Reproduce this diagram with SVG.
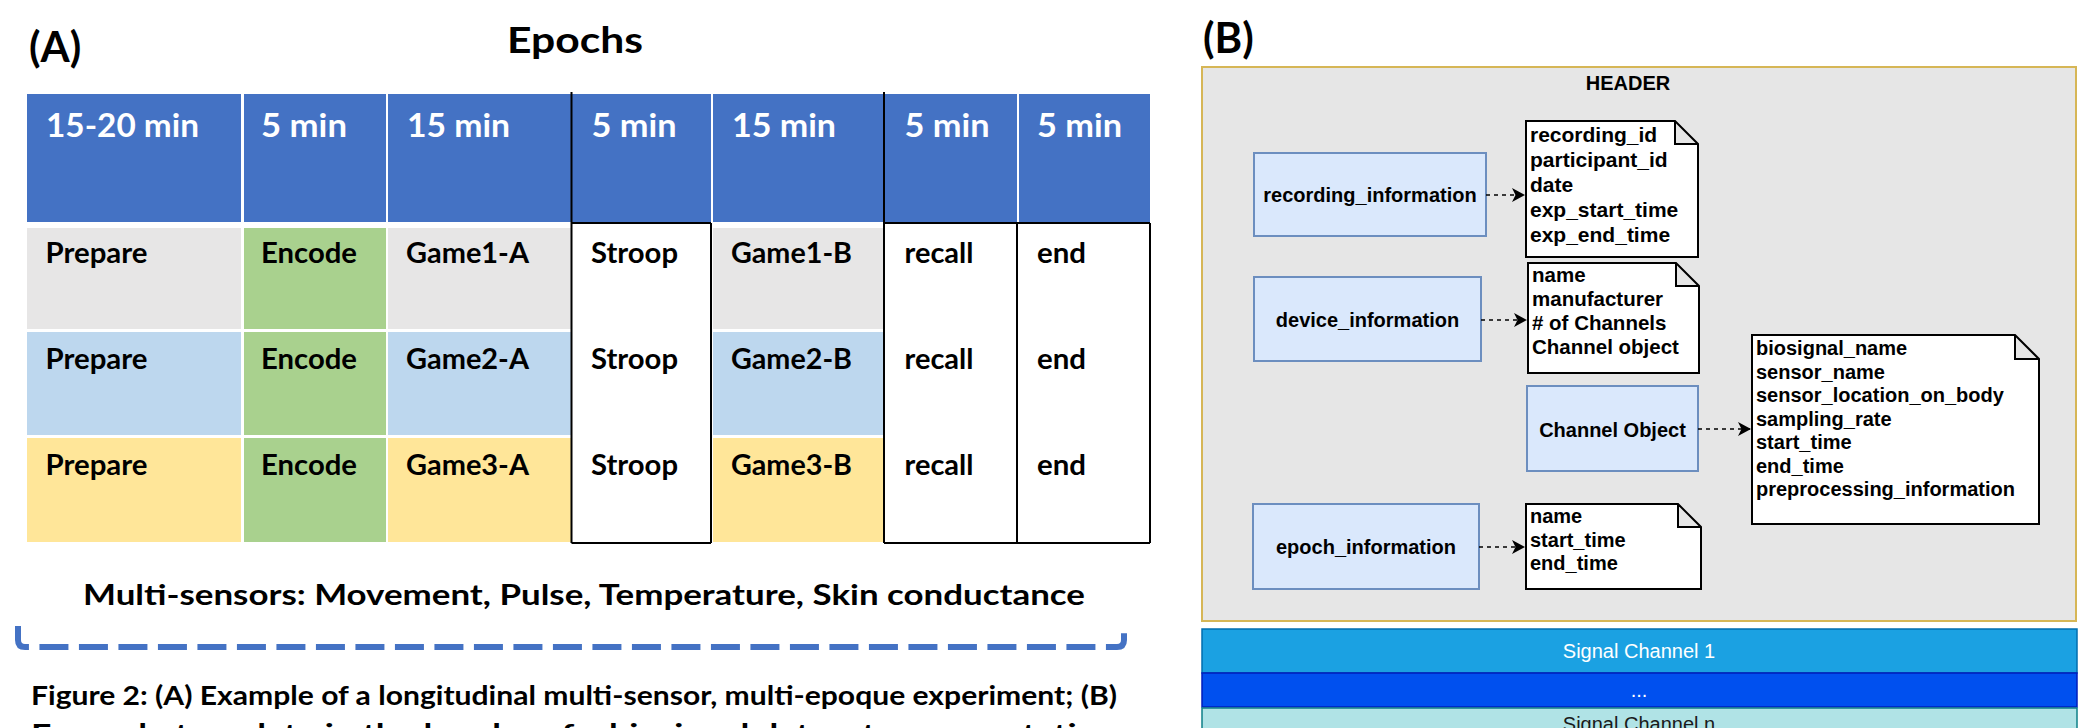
<svg xmlns="http://www.w3.org/2000/svg" width="2096" height="728" viewBox="0 0 2096 728">
<style>
.ta{font-family:Lato,"Liberation Sans",sans-serif;font-weight:bold;fill:#000}
.th{font-family:Lato,"Liberation Sans",sans-serif;font-weight:bold;fill:#fff;font-size:32px}
.tr{font-family:Lato,"Liberation Sans",sans-serif;font-weight:bold;fill:#000;font-size:28px}
.bl{stroke:#000;stroke-width:2;fill:none}
.lb{font-family:"Liberation Sans",Arial,sans-serif;font-weight:bold;fill:#000;font-size:20px;text-anchor:middle}
.nt{font-family:"Liberation Sans",Arial,sans-serif;font-weight:bold;fill:#000}
.box{fill:#DAE8FC;stroke:#6C8EBF;stroke-width:2}
.note{fill:#fff;stroke:#000;stroke-width:2;stroke-linejoin:miter}
.edge{stroke:#000;stroke-width:1.6;stroke-dasharray:4 4;fill:none}
.sc{font-family:"Liberation Sans",Arial,sans-serif;font-size:20px;text-anchor:middle}
</style>
<defs>
<marker id="arr" markerUnits="userSpaceOnUse" markerWidth="16" markerHeight="16" refX="13" refY="7" orient="auto">
<path d="M0,0 L13,7 L0,14 L3.5,7 Z" fill="#000"/>
</marker>
</defs>
<rect width="2096" height="728" fill="#fff"/>

<!-- Panel A -->
<g id="panelA-titles">
<text class="ta" x="29" y="62" font-size="42">(A)</text>
<text class="ta" x="507" y="53" font-size="36" textLength="136" lengthAdjust="spacingAndGlyphs">Epochs</text>
</g>

<g id="table-header">
<rect x="27" y="94" width="1123" height="128" fill="#4472C4"/>
<rect x="241" y="94" width="3" height="128" fill="#fff"/>
<rect x="386" y="94" width="2" height="128" fill="#fff"/>
<rect x="711" y="94" width="2" height="128" fill="#fff"/>
<rect x="1017" y="94" width="2" height="128" fill="#fff"/>
<text class="th" x="46" y="137" textLength="153" lengthAdjust="spacingAndGlyphs">15-20 min</text>
<text class="th" x="261" y="137" textLength="86" lengthAdjust="spacingAndGlyphs">5 min</text>
<text class="th" x="407" y="137" textLength="103" lengthAdjust="spacingAndGlyphs">15 min</text>
<text class="th" x="591.5" y="137" textLength="85" lengthAdjust="spacingAndGlyphs">5 min</text>
<text class="th" x="732" y="137" textLength="104" lengthAdjust="spacingAndGlyphs">15 min</text>
<text class="th" x="904.5" y="137" textLength="85" lengthAdjust="spacingAndGlyphs">5 min</text>
<text class="th" x="1037" y="137" textLength="85" lengthAdjust="spacingAndGlyphs">5 min</text>
</g>

<g id="row1">
<rect x="27" y="228" width="214" height="101" fill="#E7E6E6"/>
<rect x="244" y="228" width="142" height="101" fill="#A9D18E"/>
<rect x="388" y="228" width="183" height="101" fill="#E7E6E6"/>
<rect x="713" y="228" width="171" height="101" fill="#E7E6E6"/>
<text class="tr" x="45.5" y="263" textLength="102" lengthAdjust="spacingAndGlyphs">Prepare</text>
<text class="tr" x="261" y="263" textLength="96" lengthAdjust="spacingAndGlyphs">Encode</text>
<text class="tr" x="406" y="263" textLength="123" lengthAdjust="spacingAndGlyphs">Game1-A</text>
<text class="tr" x="591" y="263" textLength="87" lengthAdjust="spacingAndGlyphs">Stroop</text>
<text class="tr" x="731" y="263" textLength="121" lengthAdjust="spacingAndGlyphs">Game1-B</text>
<text class="tr" x="904.5" y="263" textLength="69" lengthAdjust="spacingAndGlyphs">recall</text>
<text class="tr" x="1037" y="263" textLength="49" lengthAdjust="spacingAndGlyphs">end</text>
</g>

<g id="row2">
<rect x="27" y="332" width="214" height="103" fill="#BDD7EE"/>
<rect x="244" y="332" width="142" height="103" fill="#A9D18E"/>
<rect x="388" y="332" width="183" height="103" fill="#BDD7EE"/>
<rect x="713" y="332" width="171" height="103" fill="#BDD7EE"/>
<text class="tr" x="45.5" y="369" textLength="102" lengthAdjust="spacingAndGlyphs">Prepare</text>
<text class="tr" x="261" y="369" textLength="96" lengthAdjust="spacingAndGlyphs">Encode</text>
<text class="tr" x="406" y="369" textLength="123" lengthAdjust="spacingAndGlyphs">Game2-A</text>
<text class="tr" x="591" y="369" textLength="87" lengthAdjust="spacingAndGlyphs">Stroop</text>
<text class="tr" x="731" y="369" textLength="121" lengthAdjust="spacingAndGlyphs">Game2-B</text>
<text class="tr" x="904.5" y="369" textLength="69" lengthAdjust="spacingAndGlyphs">recall</text>
<text class="tr" x="1037" y="369" textLength="49" lengthAdjust="spacingAndGlyphs">end</text>
</g>

<g id="row3">
<rect x="27" y="438" width="214" height="104" fill="#FFE699"/>
<rect x="244" y="438" width="142" height="104" fill="#A9D18E"/>
<rect x="388" y="438" width="183" height="104" fill="#FFE699"/>
<rect x="713" y="438" width="171" height="104" fill="#FFE699"/>
<text class="tr" x="45.5" y="475" textLength="102" lengthAdjust="spacingAndGlyphs">Prepare</text>
<text class="tr" x="261" y="475" textLength="96" lengthAdjust="spacingAndGlyphs">Encode</text>
<text class="tr" x="406" y="475" textLength="123" lengthAdjust="spacingAndGlyphs">Game3-A</text>
<text class="tr" x="591" y="475" textLength="87" lengthAdjust="spacingAndGlyphs">Stroop</text>
<text class="tr" x="731" y="475" textLength="121" lengthAdjust="spacingAndGlyphs">Game3-B</text>
<text class="tr" x="904.5" y="475" textLength="69" lengthAdjust="spacingAndGlyphs">recall</text>
<text class="tr" x="1037" y="475" textLength="49" lengthAdjust="spacingAndGlyphs">end</text>
</g>

<g id="table-borders">
<path class="bl" d="M571.5,92 V543 M711,223 V543 M884,92 V543 M1017,223 V543 M1150,223 V543 M571.5,223 H711 M884,223 H1150 M571.5,543 H711 M884,543 H1150"/>
</g>

<g id="sensors">
<text class="tr" x="83" y="605" textLength="1002" lengthAdjust="spacingAndGlyphs">Multi-sensors: Movement, Pulse, Temperature, Skin conductance</text>
<path d="M18,626 V640 Q18,647 25,647 H1117 Q1124,647 1124,640 V626" fill="none" stroke="#4472C4" stroke-width="6" stroke-dasharray="29 10.5"/>
</g>

<g id="caption">
<text class="ta" x="31" y="705" font-size="26" textLength="1086" lengthAdjust="spacingAndGlyphs">Figure 2: (A) Example of a longitudinal multi-sensor, multi-epoque experiment; (B)</text>
<text class="ta" x="31" y="743" font-size="26" textLength="1086" lengthAdjust="spacingAndGlyphs">Example template in the header of a biosignal dataset representation</text>
</g>

<!-- Panel B -->
<g id="panelB-title">
<text class="ta" x="1203" y="53" font-size="42">(B)</text>
</g>

<g id="header-container">
<rect x="1202" y="67" width="874" height="554" fill="#E6E6E6" stroke="#D6B656" stroke-width="2"/>
<text class="lb" x="1628" y="90" font-size="18">HEADER</text>
</g>

<g id="recording_information">
<rect class="box" x="1254" y="153" width="232" height="83"/>
<text class="lb" x="1370" y="202">recording_information</text>
</g>
<g id="recording_note">
<path class="note" d="M1526,121 H1675 L1698,144 V257 H1526 Z M1675,121 V144 H1698"/>
<text class="nt" font-size="21" x="1530" y="142">recording_id<tspan x="1530" dy="25">participant_id</tspan><tspan x="1530" dy="25">date</tspan><tspan x="1530" dy="25">exp_start_time</tspan><tspan x="1530" dy="25">exp_end_time</tspan></text>
</g>

<g id="device_information">
<rect class="box" x="1254" y="277" width="227" height="84"/>
<text class="lb" x="1367.5" y="327">device_information</text>
</g>
<g id="device_note">
<path class="note" d="M1528,263 H1676 L1699,286 V373 H1528 Z M1676,263 V286 H1699"/>
<text class="nt" font-size="20.5" x="1532" y="282">name<tspan x="1532" dy="24">manufacturer</tspan><tspan x="1532" dy="24"># of Channels</tspan><tspan x="1532" dy="24">Channel object</tspan></text>
</g>

<g id="channel_object">
<rect class="box" x="1527" y="386" width="171" height="85"/>
<text class="lb" x="1612.5" y="437">Channel Object</text>
</g>
<g id="channel_note">
<path class="note" d="M1752,335 H2015 L2039,359 V524 H1752 Z M2015,335 V359 H2039"/>
<text class="nt" font-size="20" x="1756" y="355">biosignal_name<tspan x="1756" dy="23.5">sensor_name</tspan><tspan x="1756" dy="23.5">sensor_location_on_body</tspan><tspan x="1756" dy="23.5">sampling_rate</tspan><tspan x="1756" dy="23.5">start_time</tspan><tspan x="1756" dy="23.5">end_time</tspan><tspan x="1756" dy="23.5">preprocessing_information</tspan></text>
</g>

<g id="epoch_information">
<rect class="box" x="1253" y="504" width="226" height="85"/>
<text class="lb" x="1366" y="554">epoch_information</text>
</g>
<g id="epoch_note">
<path class="note" d="M1526,504 H1678 L1701,527 V589 H1526 Z M1678,504 V527 H1701"/>
<text class="nt" font-size="20" x="1530" y="523">name<tspan x="1530" dy="23.5">start_time</tspan><tspan x="1530" dy="23.5">end_time</tspan></text>
</g>

<g id="connectors">
<path class="edge" d="M1486,195 H1525" marker-end="url(#arr)"/>
<path class="edge" d="M1481,320 H1527" marker-end="url(#arr)"/>
<path class="edge" d="M1698,429 H1751" marker-end="url(#arr)"/>
<path class="edge" d="M1479,547 H1525" marker-end="url(#arr)"/>
</g>

<g id="signal-channel-1">
<rect x="1202" y="629" width="875" height="44" fill="#1BA1E2" stroke="#006EAF" stroke-width="1.5"/>
<text class="sc" x="1639" y="658" fill="#fff">Signal Channel 1</text>
</g>
<g id="signal-channel-dots">
<rect x="1202" y="673" width="875" height="34" fill="#0050EF" stroke="#001DBC" stroke-width="1.5"/>
<text class="sc" x="1639" y="697" fill="#fff" font-size="14">...</text>
</g>
<g id="signal-channel-n">
<rect x="1202" y="708" width="875" height="34" fill="#B0E3E6" stroke="#0E8088" stroke-width="1.5"/>
<text class="sc" x="1639" y="731" fill="#1a1a1a">Signal Channel n</text>
</g>
</svg>
